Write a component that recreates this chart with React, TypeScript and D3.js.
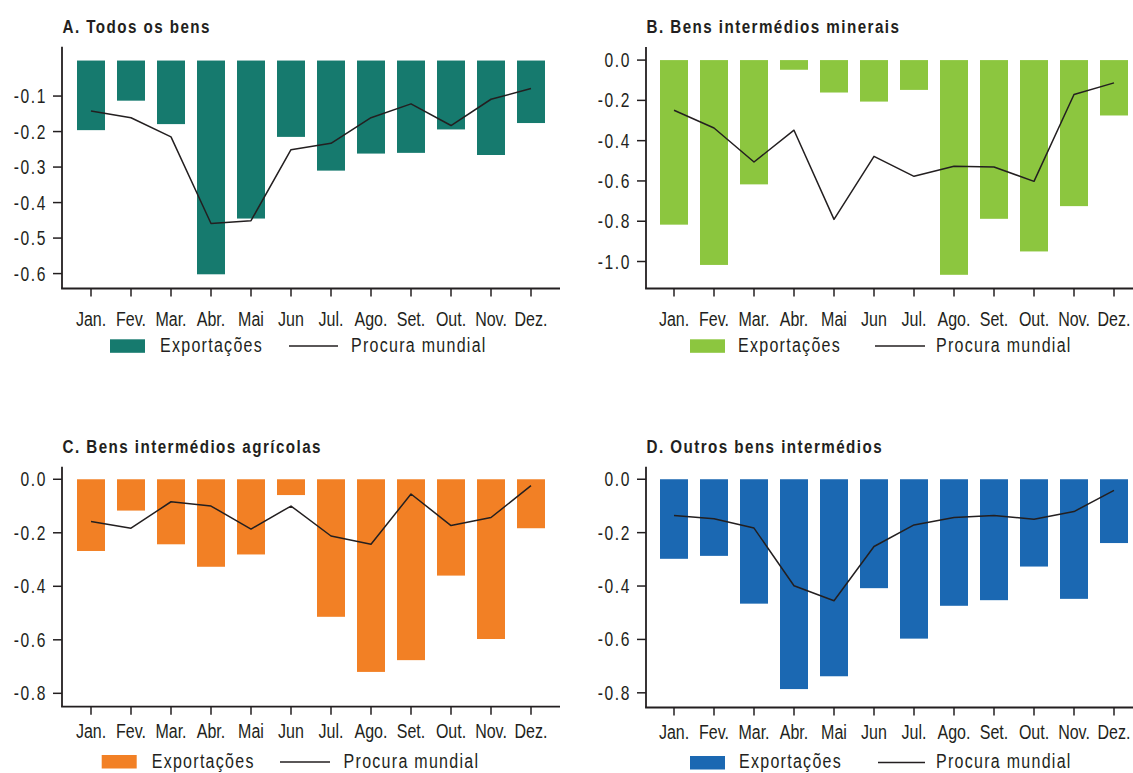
import React from "react";
import * as d3 from "d3";

const months = ["Jan.", "Fev.", "Mar.", "Abr.", "Mai", "Jun", "Jul.", "Ago.", "Set.", "Out.", "Nov.", "Dez."];

const titles = ["A. Todos os bens", "B. Bens intermédios minerais", "C. Bens intermédios agrícolas", "D. Outros bens intermédios"];

const exportsA = [-0.196, -0.113, -0.179, -0.602, -0.445, -0.215, -0.31, -0.262, -0.26, -0.194, -0.266, -0.176];
const demandA = [-0.142, -0.161, -0.215, -0.459, -0.451, -0.251, -0.233, -0.161, -0.122, -0.183, -0.109, -0.079];
const exportsB = [-0.817, -1.017, -0.617, -0.048, -0.161, -0.206, -0.148, -1.066, -0.788, -0.95, -0.725, -0.275];
const demandB = [-0.249, -0.337, -0.506, -0.348, -0.791, -0.478, -0.577, -0.527, -0.531, -0.602, -0.171, -0.113];
const exportsC = [-0.268, -0.117, -0.243, -0.327, -0.281, -0.059, -0.514, -0.72, -0.676, -0.36, -0.597, -0.183];
const demandC = [-0.158, -0.183, -0.084, -0.1, -0.186, -0.1, -0.212, -0.243, -0.055, -0.173, -0.143, -0.024];
const exportsD = [-0.298, -0.287, -0.466, -0.786, -0.738, -0.408, -0.597, -0.474, -0.453, -0.327, -0.448, -0.239];
const demandD = [-0.136, -0.148, -0.183, -0.399, -0.455, -0.252, -0.171, -0.143, -0.136, -0.15, -0.121, -0.042];

const ticksA = [-0.1, -0.2, -0.3, -0.4, -0.5, -0.6];
const ticksB = [0, -0.2, -0.4, -0.6, -0.8, -1.0];
const ticksC = [0, -0.2, -0.4, -0.6, -0.8];
const ticksD = [0, -0.2, -0.4, -0.6, -0.8];

const domainA = [-0.642, 0.039];
const domainB = [-1.134, 0.065];
const domainC = [-0.85, 0.047];
const domainD = [-0.855, 0.047];

const legendLabels = ["Exportações", "Procura mundial"];

const FONT = "'Liberation Sans', Arial, sans-serif";
const INK = "#231f20";
const SX = 0.8;

function CText(props: {
  x: number;
  y: number;
  size: number;
  anchor?: "start" | "middle" | "end";
  weight?: string;
  ls?: number;
  dy?: string;
  children: React.ReactNode;
}) {
  const { x, y, size, anchor = "start", weight = "normal", ls = 0, dy, children } = props;
  return (
    <g transform={`translate(${x},${y}) scale(${SX},1)`}>
      <text
        x={0}
        y={0}
        dy={dy}
        textAnchor={anchor}
        fontFamily={FONT}
        fontWeight={weight}
        fontSize={size}
        letterSpacing={ls}
        fill={INK}
      >
        {children}
      </text>
    </g>
  );
}

type PanelCfg = {
  title: string;
  exp: number[];
  dem: number[];
  ticks: number[];
  domain: number[];
  color: string;
  axisX: number;
  top: number;
  bottom: number;
  xRange: [number, number];
  axisEnd: number;
  titleY: number;
  labelDy: number;
  legend: { sw: number; swY: number; txt: number; ln0: number; ln1: number; lnY: number; txt2: number; base: number };
};

function Panel({ c }: { c: PanelCfg }) {
  const x = d3.scaleBand<string>().domain(months).range(c.xRange).paddingInner(0.3).paddingOuter(0.15);
  const y = d3.scaleLinear().domain(c.domain).range([c.bottom, c.top]);
  const cx = (m: string) => (x(m) as number) + x.bandwidth() / 2;
  const line = d3
    .line<number>()
    .x((_, i) => cx(months[i]))
    .y((v) => y(v));
  const L = c.legend;
  return (
    <g>
      <CText x={c.axisX + 0.5} y={c.titleY} size={19} weight="bold" ls={1.8}>
        {c.title}
      </CText>
      {c.exp.map((v, i) => (
        <rect key={i} x={x(months[i])} width={x.bandwidth()} y={y(0)} height={y(v) - y(0)} fill={c.color} />
      ))}
      <path d={line(c.dem) || ""} fill="none" stroke={INK} strokeWidth={1.5} strokeLinejoin="round" />
      <line x1={c.axisX} x2={c.axisX} y1={c.top} y2={c.bottom} stroke={INK} strokeWidth={1.8} />
      <line x1={c.axisX - 0.9} x2={c.axisEnd} y1={c.bottom} y2={c.bottom} stroke={INK} strokeWidth={1.8} />
      {c.ticks.map((t) => (
        <g key={t}>
          <line x1={c.axisX - 9} x2={c.axisX} y1={y(t)} y2={y(t)} stroke={INK} strokeWidth={1.5} />
          <CText x={c.axisX - 15} y={y(t)} dy="0.36em" size={19.5} anchor="end" ls={2}>
            {t.toFixed(1)}
          </CText>
        </g>
      ))}
      {months.map((m) => (
        <g key={m}>
          <line x1={cx(m)} x2={cx(m)} y1={c.bottom} y2={c.bottom + 8} stroke={INK} strokeWidth={1.5} />
          <CText x={cx(m)} y={c.bottom + c.labelDy} size={20} anchor="middle">
            {m}
          </CText>
        </g>
      ))}
      <rect x={L.sw} y={L.swY} width={35} height={13.5} fill={c.color} />
      <CText x={L.txt} y={L.base} size={20} ls={1.6}>
        {legendLabels[0]}
      </CText>
      <line x1={L.ln0} x2={L.ln1} y1={L.lnY} y2={L.lnY} stroke={INK} strokeWidth={1.3} />
      <CText x={L.txt2} y={L.base} size={20} ls={1.6}>
        {legendLabels[1]}
      </CText>
    </g>
  );
}

const panels: PanelCfg[] = [
  {
    title: titles[0], exp: exportsA, dem: demandA, ticks: ticksA, domain: domainA, color: "#167a6e",
    axisX: 62, top: 46.7, bottom: 288.5, xRange: [71, 551], axisEnd: 560, titleY: 33.3, labelDy: 37,
    legend: { sw: 110, swY: 339.3, txt: 160, ln0: 289, ln1: 338, lnY: 346, txt2: 351, base: 352 },
  },
  {
    title: titles[1], exp: exportsB, dem: demandB, ticks: ticksB, domain: domainB, color: "#8cc63f",
    axisX: 646, top: 47, bottom: 288.5, xRange: [654, 1134], axisEnd: 1140, titleY: 33.3, labelDy: 37,
    legend: { sw: 690, swY: 339.3, txt: 738, ln0: 875, ln1: 925, lnY: 346, txt2: 936, base: 352 },
  },
  {
    title: titles[2], exp: exportsC, dem: demandC, ticks: ticksC, domain: domainC, color: "#f28025",
    axisX: 62, top: 466.7, bottom: 706.7, xRange: [71, 551], axisEnd: 560, titleY: 453.3, labelDy: 31,
    legend: { sw: 101.7, swY: 755, txt: 151.7, ln0: 280, ln1: 330, lnY: 762, txt2: 343.6, base: 767.5 },
  },
  {
    title: titles[3], exp: exportsD, dem: demandD, ticks: ticksD, domain: domainD, color: "#1b68b2",
    axisX: 646, top: 466.7, bottom: 707.5, xRange: [654, 1134], axisEnd: 1140, titleY: 453.3, labelDy: 31,
    legend: { sw: 690, swY: 756, txt: 739, ln0: 878, ln1: 925, lnY: 762.5, txt2: 936, base: 768 },
  },
];

export default function App() {
  return (
    <svg
      width={1133}
      height={773}
      viewBox="0 0 1133 773"
      style={{ position: "absolute", left: 0, top: 0, background: "#ffffff" }}
    >
      <rect width={1133} height={773} fill="#ffffff" />
      {panels.map((p, i) => (
        <Panel key={i} c={p} />
      ))}
    </svg>
  );
}
